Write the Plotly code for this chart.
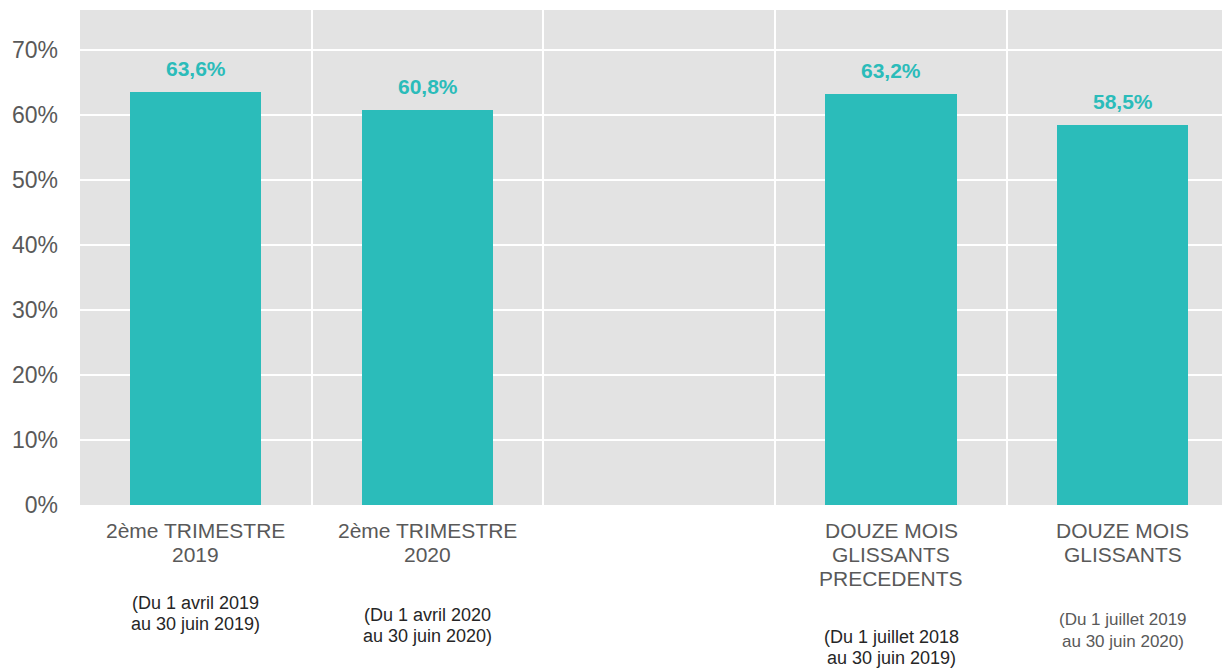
import plotly.graph_objects as go

categories = ["2ème TRIMESTRE<br>2019", "2ème TRIMESTRE<br>2020", "",
              "DOUZE MOIS<br>GLISSANTS<br>PRECEDENTS", "DOUZE MOIS<br>GLISSANTS"]
values = [63.6, 60.8, None, 63.2, 58.5]
value_labels = ["63,6%", "60,8%", "", "63,2%", "58,5%"]
sub_labels = ["(Du 1 avril 2019<br>au 30 juin 2019)", "(Du 1 avril 2020<br>au 30 juin 2020)", "",
              "(Du 1 juillet 2018<br>au 30 juin 2019)", "(Du 1 juillet 2019<br>au 30 juin 2020)"]
y_ticks = [0, 10, 20, 30, 40, 50, 60, 70]
y_tick_text = ["0%", "10%", "20%", "30%", "40%", "50%", "60%", "70%"]

TEAL = "#2BBCBA"
FONT = "Liberation Sans, Arial, sans-serif"
xs = list(range(len(categories)))
bx = [x for x, v in zip(xs, values) if v is not None]
bv = [v for v in values if v is not None]

fig = go.Figure()
fig.add_trace(go.Bar(x=bx, y=bv, marker=dict(color=TEAL, line=dict(width=0)), width=0.566,
                     hoverinfo="skip"))

annotations = []
for x, v, t in zip(xs, values, value_labels):
    if v is None:
        continue
    annotations.append(dict(x=x, y=v, xref="x", yref="y", text=f"<b>{t}</b>", showarrow=False,
                            yanchor="bottom", yshift=10,
                            font=dict(family=FONT, size=21, color=TEAL)))

# page-pixel centres of each label line (plot bottom is at 505)
PLOT_BOTTOM = 505
main_centres = [530, 554, 578]
for x, c in zip(xs, categories):
    if not c:
        continue
    for i, line in enumerate(c.split("<br>")):
        annotations.append(dict(x=x, y=0, xref="x", yref="paper", text=line, showarrow=False,
                                yanchor="middle", yshift=-(main_centres[i] - PLOT_BOTTOM),
                                font=dict(family=FONT, size=21, color="#595959")))

sub_centres = [[603, 624], [615, 636], None, [637, 658], [619, 641]]
sub_sizes = [18, 18, None, 18, 17]
sub_colors = ["#262626", "#262626", None, "#262626", "#595959"]
for x, s, cen, sz, col in zip(xs, sub_labels, sub_centres, sub_sizes, sub_colors):
    if not s:
        continue
    for i, line in enumerate(s.split("<br>")):
        annotations.append(dict(x=x, y=0, xref="x", yref="paper", text=line, showarrow=False,
                                yanchor="middle", yshift=-(cen[i] - PLOT_BOTTOM),
                                font=dict(family=FONT, size=sz, color=col)))

fig.update_layout(
    width=1222, height=660,
    margin=dict(l=72, r=0, t=2, b=163),
    paper_bgcolor="white", plot_bgcolor="#E3E3E3",
    showlegend=False,
    annotations=annotations,
    bargap=0,
    xaxis=dict(range=[-0.5, 4.463], showticklabels=False, showgrid=False, zeroline=False,
               tickvals=xs, ticks="",
               minor=dict(tickvals=[0.5, 1.5, 2.5, 3.5], showgrid=True, gridcolor="white", gridwidth=2)),
    yaxis=dict(range=[0, 76.15], tickvals=y_ticks, ticktext=y_tick_text, showgrid=True,
               gridcolor="white", gridwidth=2, zeroline=False, ticks="", ticklabelstandoff=21,
               tickfont=dict(family=FONT, size=23, color="#595959")),
)

fig.write_html("out.html")
